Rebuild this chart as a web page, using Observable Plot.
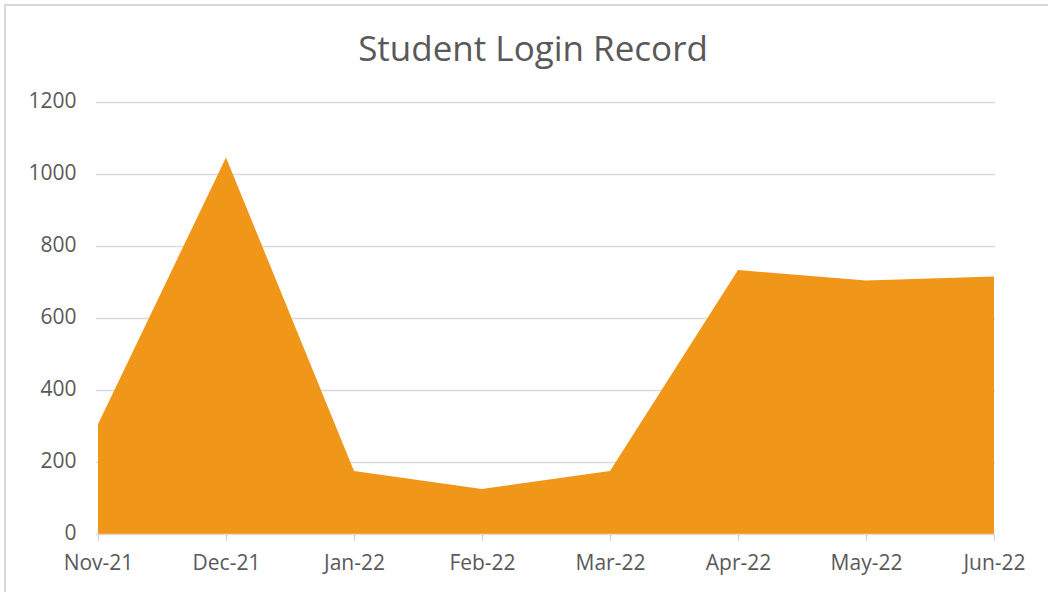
<!DOCTYPE html>
<html>
<head>
<meta charset="utf-8">
<script src="https://cdn.jsdelivr.net/npm/d3@7"></script>
<script src="https://cdn.jsdelivr.net/npm/@observablehq/plot@0.6"></script>
<style>
  html, body { margin: 0; padding: 0; background: #fff; }
  #frame { position: absolute; left: 4px; top: 4px; width: 1060px; height: 620px; border: 2px solid #d9d9d9; box-sizing: border-box; }
  #wrap { position: absolute; left: 0; top: 0; width: 1048px; }
  #title { height: 80px; line-height: 96px; text-align: center; font-family: "Open Sans", sans-serif; font-size: 35px; color: #595959; padding-left: 18px; box-sizing: border-box; }
</style>
</head>
<body>
<div id="frame"></div>
<div id="wrap">
  <div id="title">Student Login Record</div>
  <div id="chart"></div>
</div>
<script>
const months = ["Nov-21", "Dec-21", "Jan-22", "Feb-22", "Mar-22", "Apr-22", "May-22", "Jun-22"];
const logins = [305, 1046, 175, 125, 175, 733, 704, 715];
const yTicks = [0, 200, 400, 600, 800, 1000, 1200];

const data = months.map((m, i) => ({month: m, value: logins[i]}));

const chart = Plot.plot({
  width: 1048,
  height: 512,
  marginTop: 22,
  marginBottom: 58,
  marginLeft: 96,
  marginRight: 53,
  style: { fontFamily: "Open Sans, sans-serif", fontSize: "21px", color: "#595959", background: "transparent" },
  x: { type: "point", domain: months, padding: 0, label: null },
  y: { domain: [0, 1200], ticks: yTicks, label: null },
  marks: [
    Plot.ruleY(yTicks.filter(d => d > 0), { stroke: "#d9d9d9", strokeWidth: 1.5 }),
    Plot.areaY(data, { x: "month", y: "value", fill: "#F09619", curve: "linear" }),
    Plot.ruleY([0], { stroke: "#d9d9d9", strokeWidth: 1.5 }),
    Plot.axisY({ ticks: yTicks, tickFormat: d3.format("d"), tickSize: 0, tickPadding: 20, label: null, fontSize: 21, dy: -1 }),
    Plot.axisX({ tickSize: 7, tickPadding: 14, label: null, fontSize: 21, stroke: "#d9d9d9", strokeWidth: 1.5 })
  ]
});
document.getElementById("chart").appendChild(chart);
</script>
</body>
</html>
